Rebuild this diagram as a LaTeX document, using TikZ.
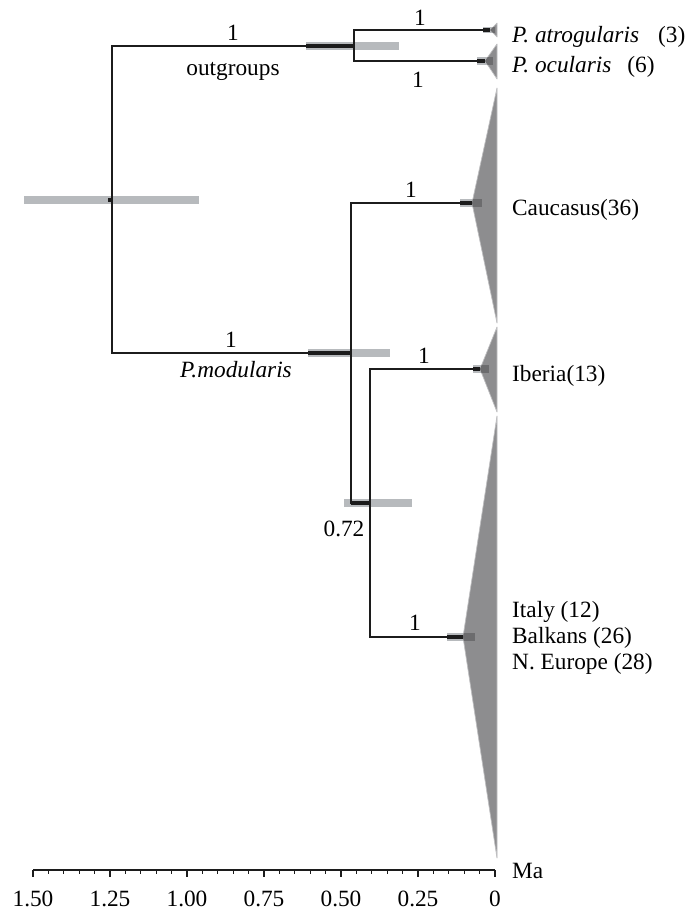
\documentclass[tikz,border=0pt]{standalone}
\usepackage{fontspec}
\setmainfont{Liberation Serif}
\definecolor{barlight}{RGB}{183,186,189}
\definecolor{bardark}{RGB}{108,108,110}
\definecolor{trifill}{RGB}{141,141,143}
\definecolor{triedge}{RGB}{190,190,192}
\definecolor{branchcol}{RGB}{28,28,28}
\tikzset{
  branch/.style={draw=branchcol,line width=1.9pt},
  thickseg/.style={draw=branchcol,line width=3.2pt},
  hpd/.style={fill=barlight},
  clade/.style={fill=trifill,draw=triedge,line width=0.7pt,line join=round},
  lab/.style={font=\fontsize{23.3}{26}\selectfont,inner sep=0pt},
  tiplab/.style={lab,anchor=base west},
  axisline/.style={draw=branchcol,line width=1.8pt},
  majortick/.style={draw=branchcol,line width=1.5pt},
  minortick/.style={draw=branchcol,line width=1.2pt}
}
\begin{document}
\begin{tikzpicture}[x=1pt,y=-1pt]
\useasboundingbox (0,0) rectangle (698,910);
% node coordinates
\coordinate (root) at (112,200);
\coordinate (og) at (354,46);
\coordinate (mod) at (351,353);
\coordinate (n72) at (370,503);
\coordinate (tA) at (490,30);
\coordinate (tO) at (485,61);
\coordinate (tC) at (472,203);
\coordinate (tI) at (480,369);
\coordinate (tIt) at (463,637);
% HPD bars
\fill[hpd] (24,196) rectangle (199,204);
\fill[hpd] (306,42) rectangle (399,50);
\fill[hpd] (308,349) rectangle (390,357);
\fill[hpd] (344,499) rectangle (412,507);
\fill[hpd] (483,27) rectangle (495,33);
\fill[hpd] (477,57) rectangle (493,65);
\fill[hpd] (460,199) rectangle (482,207);
\fill[hpd] (473,365) rectangle (489,373);
\fill[hpd] (447,633) rectangle (475,641);
% collapsed clades
\path[clade] (tA) -- (497,23) -- (497,37) -- cycle;
\path[clade] (tO) -- (497,44) -- (497,79) -- cycle;
\path[clade] (tC) -- (497,88) -- (497,323) -- cycle;
\path[clade] (tI) -- (497,327) -- (497,412) -- cycle;
\path[clade] (tIt) -- (497,416) -- (497,858) -- cycle;
% bars darkened where they lie over clades
\begin{scope}
\clip (tA) -- (497,23) -- (497,37) -- cycle;
\fill[bardark] (483,27) rectangle (495,33);
\end{scope}
\begin{scope}
\clip (tO) -- (497,44) -- (497,79) -- cycle;
\fill[bardark] (477,57) rectangle (493,65);
\end{scope}
\begin{scope}
\clip (tC) -- (497,88) -- (497,323) -- cycle;
\fill[bardark] (460,199) rectangle (482,207);
\end{scope}
\begin{scope}
\clip (tI) -- (497,327) -- (497,412) -- cycle;
\fill[bardark] (473,365) rectangle (489,373);
\end{scope}
\begin{scope}
\clip (tIt) -- (497,416) -- (497,858) -- cycle;
\fill[bardark] (447,633) rectangle (475,641);
\end{scope}
% branches
\draw[branch] (root) |- (og);
\draw[branch] (root) |- (mod);
\draw[branch] (og) |- (tA);
\draw[branch] (og) |- (tO);
\draw[branch] (mod) |- (tC);
\draw[branch] (mod) |- (n72);
\draw[branch] (n72) |- (tI);
\draw[branch] (n72) |- (tIt);
% thicker line where branches cross bars
\draw[thickseg] (306,46) -- (og);
\draw[thickseg] (308,353) -- (mod);
\draw[thickseg] (351,503) -- (n72);
\draw[thickseg] (108,200) -- (root);
\draw[thickseg] (483,30) -- (tA);
\draw[thickseg] (477,61) -- (tO);
\draw[thickseg] (460,203) -- (tC);
\draw[thickseg] (473,369) -- (tI);
\draw[thickseg] (447,637) -- (tIt);
% support values and group names
\node[lab] (s1) at (233,33) {1};
\node[lab] (s2) at (420,18) {1};
\node[lab] (s3) at (418,80) {1};
\node[lab] (s4) at (231,340) {1};
\node[lab] (s5) at (411,190) {1};
\node[lab] (s6) at (424,356) {1};
\node[lab] (s7) at (415,623) {1};
\node[lab,anchor=base] (s8) at (344,536) {0.72};
\node[lab,anchor=base] (grp1) at (233,75) {outgroups};
\node[lab,anchor=base] (grp2) at (236,377) {\itshape P.modularis};
% tip labels
\node[tiplab] (nA) at (512,42) {\textit{P. atrogularis}\hspace{19pt}(3)};
\node[tiplab] (nO) at (512,72) {\textit{P. ocularis}\hspace{16pt}(6)};
\node[tiplab] (nC) at (512,215) {Caucasus(36)};
\node[tiplab] (nI) at (512,381) {Iberia(13)};
\node[tiplab] (nIt1) at (512,617) {Italy (12)};
\node[tiplab] (nIt2) at (512,643) {Balkans (26)};
\node[tiplab] (nIt3) at (512,669) {N. Europe (28)};
% time axis
\coordinate (ax0) at (495,870);
\coordinate (ax1) at (33,870);
\draw[axisline] (ax1) -- (ax0);
\foreach \i in {0,...,30}{
  \draw[minortick] ({495-\i*15.4},870) -- ++(0,4);
}
\foreach \i/\t in {0/0,1/0.25,2/0.50,3/0.75,4/1.00,5/1.25,6/1.50}{
  \draw[majortick] ({495-\i*77},870) -- ++(0,7);
  \node[lab,anchor=base] at ({495-\i*77},906) {\t};
}
\node[lab,anchor=base west] (ma) at (512,878) {Ma};
\end{tikzpicture}
\end{document}
